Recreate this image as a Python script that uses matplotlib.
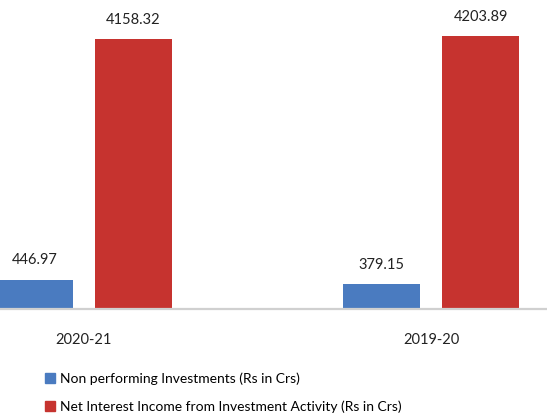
import numpy as np
import matplotlib.pyplot as plt
from matplotlib.patches import Patch

# dados
anos = ['2020-21', '2019-20']
non_performing = [446.97, 379.15]
net_interest = [4158.32, 4203.89]
series_names = ['Non performing Investments (Rs in Crs)',
                'Net Interest Income from Investment Activity (Rs in Crs)']

plt.rcParams['font.family'] = ['Lato', 'DejaVu Sans']

fig = plt.figure(figsize=(5.47, 4.18), dpi=100)
ax = fig.add_axes([0, 109 / 418, 1, 309 / 418])

x = np.arange(len(anos))
largura = 0.222
desloc = 0.1427
cor_azul = '#4A7BC0'
cor_verm = '#C6332F'

b1 = ax.bar(x - desloc, non_performing, largura, color=cor_azul)
b2 = ax.bar(x + desloc, net_interest, largura, color=cor_verm)

for barras, vals in ((b1, non_performing), (b2, net_interest)):
    for r, v in zip(barras, vals):
        ax.annotate(f'{v:.2f}', (r.get_x() + r.get_width() / 2, v),
                    xytext=(0, 9), textcoords='offset points',
                    ha='center', va='bottom', fontsize=10.5, color='#222222')

ax.set_xlim(-0.242, 1.334)
ax.set_ylim(0, 4759)
ax.set_yticks([])
ax.set_xticks(x)
ax.set_xticklabels(anos, fontsize=10.5, color='#222222')
ax.tick_params(axis='x', length=0, pad=17)
for s in ['top', 'right', 'left']:
    ax.spines[s].set_visible(False)
ax.spines['bottom'].set_color('#D0D0D0')
ax.spines['bottom'].set_linewidth(1.6)

handles = [Patch(color=cor_azul), Patch(color=cor_verm)]
fig.legend(handles, series_names, loc='upper left', bbox_to_anchor=(0.072, 0.123),
           frameon=False, fontsize=10, handlelength=0.7, handleheight=0.7,
           handletextpad=0.35, labelspacing=1.15, borderaxespad=0)

fig.savefig('out.png', dpi=100)
